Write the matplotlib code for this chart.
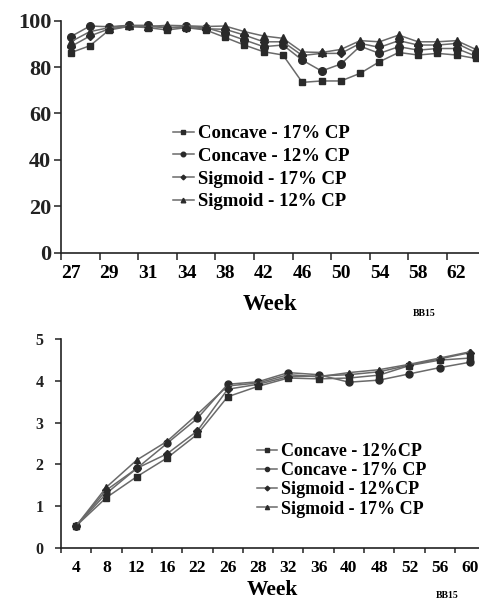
import matplotlib
matplotlib.use("Agg")
import matplotlib.pyplot as plt
import numpy as np

plt.rcParams['font.family'] = ['Liberation Serif', 'DejaVu Serif']
plt.rcParams['font.weight'] = 'bold'

# ── data: top panel (22 weekly categories, every other one labelled) ──────────
top_labels = ["27", "", "29", "", "31", "", "34", "", "38", "", "42", "",
              "46", "", "50", "", "54", "", "58", "", "62", ""]
top_concave_17 = [86.2, 89.2, 96.0, 97.5, 97.0, 96.0, 97.0, 96.0, 92.8, 89.5, 86.6,
                  85.2, 73.4, 74.0, 74.0, 77.3, 82.3, 86.3, 85.2, 85.9, 85.2, 83.7]
top_concave_12 = [93.1, 97.7, 97.4, 98.0, 98.0, 97.0, 97.5, 97.0, 94.6, 91.7, 88.8,
                  89.5, 83.0, 78.3, 81.3, 89.0, 85.9, 88.8, 87.3, 88.0, 88.0, 84.7]
top_sigmoid_17 = [88.8, 93.4, 96.5, 97.5, 97.5, 97.0, 97.0, 96.5, 96.3, 93.8, 90.9,
                  90.9, 85.0, 85.9, 85.9, 90.2, 88.5, 91.4, 89.5, 89.5, 90.2, 86.2]
top_sigmoid_12 = [90.9, 95.3, 97.0, 98.0, 97.5, 98.0, 97.8, 97.5, 97.7, 95.3, 93.4,
                  92.4, 86.5, 86.3, 87.6, 91.4, 90.9, 93.8, 90.9, 90.9, 91.4, 87.6]

# ── data: bottom panel ───────────────────────────────────────────────────────
bot_labels = ["4", "8", "12", "16", "22", "26", "28", "32", "36", "40",
              "48", "52", "56", "60"]
bot_concave_12 = [0.52, 1.20, 1.70, 2.15, 2.72, 3.62, 3.87, 4.07, 4.05, 4.07,
                  4.14, 4.37, 4.50, 4.55]
bot_concave_17 = [0.52, 1.30, 1.90, 2.50, 3.10, 3.92, 3.98, 4.20, 4.15, 3.97,
                  4.02, 4.17, 4.32, 4.45]
bot_sigmoid_12 = [0.52, 1.38, 1.90, 2.25, 2.80, 3.80, 3.92, 4.10, 4.12, 4.15,
                  4.22, 4.38, 4.53, 4.68]
bot_sigmoid_17 = [0.52, 1.45, 2.10, 2.55, 3.20, 3.88, 3.95, 4.15, 4.10, 4.20,
                  4.27, 4.40, 4.55, 4.70]

LINE_C = "#6a6a6a"
MARK_C = "#2a2a2a"
W, H = 479, 602

fig = plt.figure(figsize=(W / 100, H / 100), dpi=100)


def style_axes(ax, xfs, yfs, ypad, xpad, xlen, ylen):
    for s in ("top", "right"):
        ax.spines[s].set_visible(False)
    for s in ("left", "bottom"):
        ax.spines[s].set_color("#222222")
        ax.spines[s].set_linewidth(1.2)
    ax.tick_params(axis="x", direction="out", length=xlen, width=1.1,
                   labelsize=xfs, pad=xpad, colors="#222222")
    ax.tick_params(axis="y", direction="out", length=ylen, width=1.1,
                   labelsize=yfs, pad=ypad, colors="#222222")
    ax.patch.set_alpha(0)


def draw_series(ax, series, markers, sizes, labels):
    x = np.arange(len(series[0]))
    for y, m, ms, lab in zip(series, markers, sizes, labels):
        ax.plot(x, y, color=LINE_C, lw=1.1, marker=m, ms=ms,
                mfc=MARK_C, mec=MARK_C, label=lab, clip_on=False, zorder=3)


def set_category_ticks(ax, labels):
    n = len(labels)
    ax.set_xlim(-0.5, n - 0.5)
    # tick marks between categories, labels centred on categories
    ax.set_xticks(np.arange(-0.5, n, 2) if labels[1] == "" else np.arange(-0.5, n, 1))
    ax.set_xticklabels([])
    ax.set_xticks(np.arange(n), minor=True)
    ax.set_xticklabels(labels, minor=True)
    ax.tick_params(axis="x", which="minor", length=0)


# ── top panel ────────────────────────────────────────────────────────────────
n_top = len(top_labels)
ax1 = fig.add_axes([61 / W, 1 - 252.5 / H, n_top * 19.3 / W, 231.8 / H])
draw_series(ax1, [top_concave_17, top_concave_12, top_sigmoid_17, top_sigmoid_12],
            ["s", "o", "D", "^"], [5, 5.5, 4, 5.5],
            ["Concave - 17% CP", "Concave - 12% CP",
             "Sigmoid - 17% CP", "Sigmoid - 12% CP"])
ax1.set_ylim(0, 100)
ax1.set_yticks([0, 20, 40, 60, 80, 100])
set_category_ticks(ax1, top_labels)
style_axes(ax1, xfs=14, yfs=16, ypad=2, xpad=4, xlen=5, ylen=5)
ax1.tick_params(axis="x", which="minor", labelsize=14, pad=9)
for t in ax1.get_xticklabels(minor=True) + ax1.get_yticklabels():
    t.set_fontweight("bold")

leg1 = ax1.legend(loc="upper left", bbox_to_anchor=(173 / W, 1 - 125 / H),
                  bbox_transform=fig.transFigure, frameon=False,
                  prop={"size": 13.5, "weight": "bold"}, handlelength=1.1,
                  handletextpad=0.25, labelspacing=0.3, borderpad=0,
                  borderaxespad=0, markerscale=0.6)

fig.text(270 / W, 1 - 305 / H, "Week", ha="center", va="center",
         fontsize=16.5, fontweight="bold")
fig.text(424 / W, 1 - 313 / H, "BB15", ha="center", va="center",
         fontsize=7, fontweight="bold")

# ── bottom panel ─────────────────────────────────────────────────────────────
n_bot = len(bot_labels)
ax2 = fig.add_axes([61 / W, 1 - 547.5 / H, n_bot * 30.3 / W, 208.2 / H])
draw_series(ax2, [bot_concave_12, bot_concave_17, bot_sigmoid_12, bot_sigmoid_17],
            ["s", "o", "D", "^"], [4.5, 5, 4, 5],
            ["Concave - 12%CP", "Concave - 17% CP",
             "Sigmoid - 12%CP", "Sigmoid - 17% CP"])
ax2.set_ylim(0, 5)
ax2.set_yticks([0, 1, 2, 3, 4, 5])
set_category_ticks(ax2, bot_labels)
style_axes(ax2, xfs=12.5, yfs=11.5, ypad=8, xpad=3, xlen=3.5, ylen=4.5)
ax2.tick_params(axis="x", which="minor", labelsize=12.5, pad=9)
for t in ax2.get_xticklabels(minor=True) + ax2.get_yticklabels():
    t.set_fontweight("bold")

leg2 = ax2.legend(loc="upper left", bbox_to_anchor=(257 / W, 1 - 443 / H),
                  bbox_transform=fig.transFigure, frameon=False,
                  prop={"size": 13, "weight": "bold"}, handlelength=1.1,
                  handletextpad=0.25, labelspacing=0.12, borderpad=0,
                  borderaxespad=0, markerscale=0.6)

fig.text(272 / W, 1 - 590 / H, "Week", ha="center", va="center",
         fontsize=15.5, fontweight="bold")
fig.text(447 / W, 1 - 596 / H, "BB15", ha="center", va="center",
         fontsize=7, fontweight="bold")

fig.savefig("out.png", dpi=100)
